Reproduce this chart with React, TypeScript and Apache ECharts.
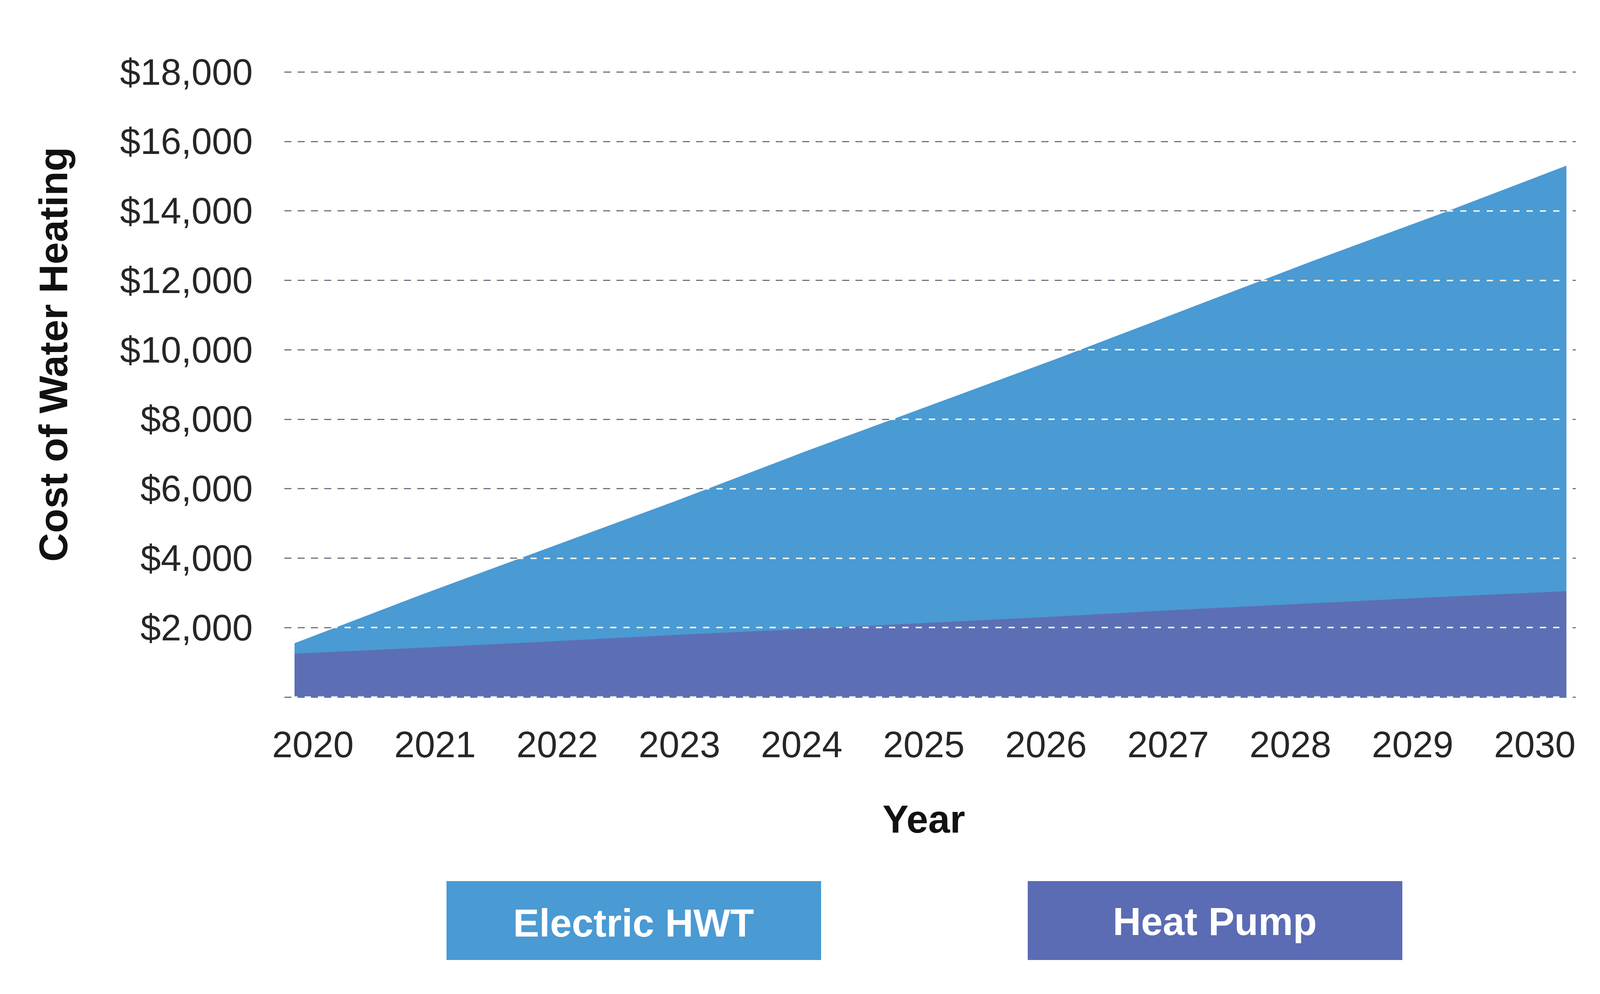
import React, { useEffect, useRef } from "react";
import * as echarts from "echarts";

const years = ["2020", "2021", "2022", "2023", "2024", "2025", "2026", "2027", "2028", "2029", "2030"];
const electricHWT = [1550, 2950, 4300, 5650, 7050, 8400, 9750, 11150, 12550, 13900, 15300];
const heatPump = [1250, 1420, 1600, 1790, 1960, 2140, 2320, 2520, 2700, 2880, 3050];
const yMin = 0;
const yMax = 18000;
const yStep = 2000;
const legendItems = ["Electric HWT", "Heat Pump"];

const ELEC = "#4A9AD3";
const HP = "#5D6FB4";
const FONT = "'Liberation Sans', Arial, sans-serif";

export default function App() {
  const ref = useRef<HTMLDivElement>(null);
  useEffect(() => {
    if (!ref.current) return;
    const chart = echarts.init(ref.current, undefined, { renderer: "svg" });
    const top = 184;
    const bottom = 2544 - 1784;
    const option = {
      animation: false,
      backgroundColor: "#ffffff",
      textStyle: { fontFamily: FONT },
      grid: [
        { left: 728, right: 66, top, bottom },
        { left: 754, right: 90, top, bottom },
        { left: 801, right: 171, top, bottom },
      ],
      xAxis: [
        { type: "value", gridIndex: 0, show: false, min: 0, max: 1 },
        {
          type: "category",
          gridIndex: 1,
          data: years,
          boundaryGap: false,
          show: false,
        },
        {
          type: "category",
          gridIndex: 2,
          data: years,
          boundaryGap: false,
          axisLine: { show: false },
          axisTick: { show: false },
          axisLabel: { color: "#262626", fontSize: 94, margin: 74, fontFamily: FONT },
          splitLine: { show: false },
          name: "Year",
          nameLocation: "middle",
          nameGap: 262,
          nameTextStyle: { color: "#111", fontSize: 100, fontWeight: "bold", fontFamily: FONT },
        },
      ],
      yAxis: [
        {
          type: "value",
          gridIndex: 0,
          min: yMin,
          max: yMax,
          interval: yStep,
          axisLine: { show: false },
          axisTick: { show: false },
          axisLabel: {
            color: "#262626",
            fontSize: 94,
            margin: 81,
            fontFamily: FONT,
            formatter: (v: number) => (v === 0 ? "" : "$" + v.toLocaleString("en-US")),
          },
          splitLine: {
            show: true,
            lineStyle: { color: "#6f7385", width: 3, type: [18, 16] },
          },
        },
        {
          type: "value",
          gridIndex: 1,
          min: yMin,
          max: yMax,
          interval: yStep,
          z: 10,
          axisLine: { show: false },
          axisTick: { show: false },
          axisLabel: { show: false },
          splitLine: {
            show: true,
            lineStyle: { color: "rgba(255,255,238,0.88)", width: 4, type: [16, 18], dashOffset: 8 },
          },
        },
        {
          type: "value",
          gridIndex: 2,
          min: yMin,
          max: yMax,
          interval: yStep,
          show: false,
          splitLine: { show: false },
        },
      ],
      series: [
        {
          name: legendItems[0],
          type: "line",
          xAxisIndex: 1,
          yAxisIndex: 1,
          data: electricHWT,
          showSymbol: false,
          lineStyle: { width: 0, color: ELEC },
          itemStyle: { color: ELEC },
          areaStyle: { color: ELEC, opacity: 1 },
          z: 2,
        },
        {
          name: legendItems[1],
          type: "line",
          xAxisIndex: 1,
          yAxisIndex: 1,
          data: heatPump,
          showSymbol: false,
          lineStyle: { width: 0, color: HP },
          itemStyle: { color: HP },
          areaStyle: { color: HP, opacity: 1 },
          z: 3,
        },
      ],
      graphic: [
        {
          type: "text",
          x: 137,
          y: 907,
          rotation: Math.PI / 2,
          style: {
            text: "Cost of Water Heating",
            fill: "#111",
            fontSize: 102,
            fontWeight: "bold",
            fontFamily: FONT,
            align: "center",
            verticalAlign: "middle",
          },
        },
        {
          type: "group",
          children: [
            { type: "rect", shape: { x: 1143, y: 2255, width: 959, height: 202 }, style: { fill: "#4A9AD4" } },
            {
              type: "text",
              x: 1622,
              y: 2362,
              style: {
                text: legendItems[0],
                fill: "#ffffff",
                fontSize: 100,
                fontWeight: "bold",
                fontFamily: FONT,
                align: "center",
                verticalAlign: "middle",
              },
            },
            { type: "rect", shape: { x: 2631, y: 2255, width: 959, height: 202 }, style: { fill: "#5B6CB4" } },
            {
              type: "text",
              x: 3110,
              y: 2358,
              style: {
                text: legendItems[1],
                fill: "#ffffff",
                fontSize: 100,
                fontWeight: "bold",
                fontFamily: FONT,
                align: "center",
                verticalAlign: "middle",
              },
            },
          ],
        },
      ],
    };
    chart.setOption(option as any);
    return () => chart.dispose();
  }, []);
  return (
    <div
      ref={ref}
      style={{ position: "absolute", left: 0, top: 0, width: 4100, height: 2544 }}
    />
  );
}
